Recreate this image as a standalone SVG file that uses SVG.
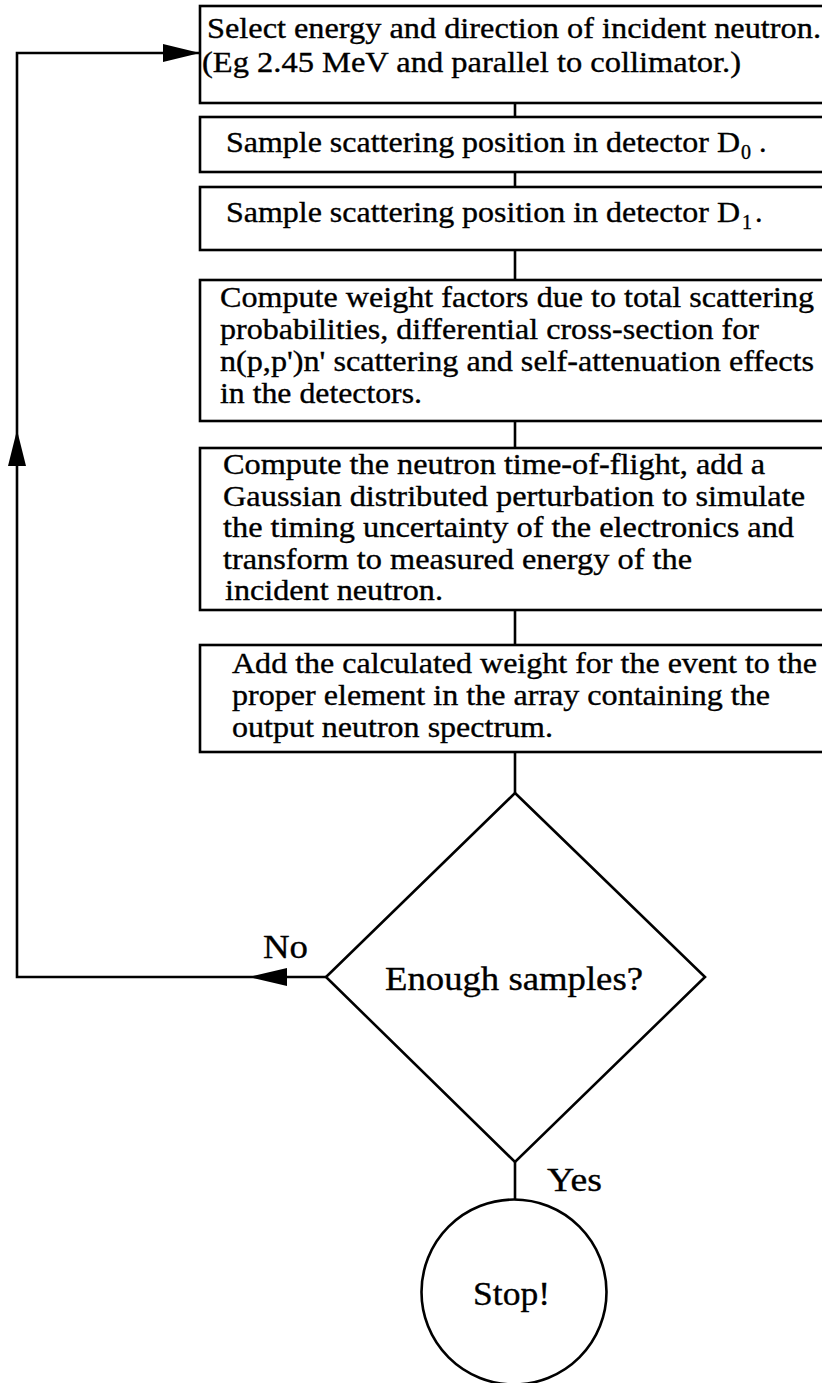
<svg xmlns="http://www.w3.org/2000/svg" width="822" height="1383" viewBox="0 0 822 1383">
<style>
.box{fill:#fff;stroke:#000;stroke-width:2.6}
.ln{fill:none;stroke:#000;stroke-width:2.6}
.ah{fill:#000;stroke:none}
text{font-family:"Liberation Serif","Times New Roman",serif;fill:#000;stroke:#000;stroke-width:0.35}
.t{font-size:30px}
.sub{font-size:20px}
.lab{font-size:34px}
</style>
<rect width="822" height="1383" fill="#fff"/>
<g id="connectors">
<line class="ln" x1="515" y1="103" x2="515" y2="117"/>
<line class="ln" x1="515" y1="172" x2="515" y2="187"/>
<line class="ln" x1="515" y1="250" x2="515" y2="280"/>
<line class="ln" x1="515" y1="421" x2="515" y2="448"/>
<line class="ln" x1="515" y1="610" x2="515" y2="645"/>
<line class="ln" x1="515" y1="752" x2="515" y2="793"/>
<line class="ln" x1="515" y1="1162" x2="515" y2="1200"/>
<polyline class="ln" points="326,977 17,977 17,53 199,53"/>
<polygon class="ah" points="200,53 163,44 163,62"/>
<polygon class="ah" points="249,977 287,968 287,986"/>
<polygon class="ah" points="17,430 8,466 26,466"/>
<text class="lab" x="263" y="958" textLength="45" lengthAdjust="spacingAndGlyphs">No</text>
<text class="lab" x="547" y="1191" textLength="55" lengthAdjust="spacingAndGlyphs">Yes</text>
</g>
<g id="n1">
<rect class="box" x="200" y="6" width="640" height="97"/>
<text class="t" x="207" y="38" textLength="614" lengthAdjust="spacingAndGlyphs">Select energy and direction of incident neutron.</text>
<text class="t" x="202" y="72" textLength="539" lengthAdjust="spacingAndGlyphs">(Eg 2.45 MeV and parallel to collimator.)</text>
</g>
<g id="n2">
<rect class="box" x="200" y="117" width="640" height="55"/>
<text class="t" y="152"><tspan x="226" textLength="514" lengthAdjust="spacingAndGlyphs">Sample scattering position in detector D</tspan><tspan class="sub" x="741" y="159">0</tspan><tspan x="759" y="152">.</tspan></text>
</g>
<g id="n3">
<rect class="box" x="200" y="187" width="640" height="63"/>
<text class="t" y="222"><tspan x="226" textLength="514" lengthAdjust="spacingAndGlyphs">Sample scattering position in detector D</tspan><tspan class="sub" x="742" y="229">1</tspan><tspan x="755" y="222">.</tspan></text>
</g>
<g id="n4">
<rect class="box" x="200" y="280" width="640" height="141"/>
<text class="t" x="220" y="307" textLength="594" lengthAdjust="spacingAndGlyphs">Compute weight factors due to total scattering</text>
<text class="t" x="220" y="339" textLength="539" lengthAdjust="spacingAndGlyphs">probabilities, differential cross-section for</text>
<text class="t" x="220" y="371" textLength="594" lengthAdjust="spacingAndGlyphs">n(p,p')n' scattering and self-attenuation effects</text>
<text class="t" x="220" y="403" textLength="202" lengthAdjust="spacingAndGlyphs">in the detectors.</text>
</g>
<g id="n5">
<rect class="box" x="200" y="448" width="640" height="162"/>
<text class="t" x="223" y="474" textLength="542" lengthAdjust="spacingAndGlyphs">Compute the neutron time-of-flight, add a</text>
<text class="t" x="223" y="506" textLength="582" lengthAdjust="spacingAndGlyphs">Gaussian distributed perturbation to simulate</text>
<text class="t" x="223" y="537" textLength="571" lengthAdjust="spacingAndGlyphs">the timing uncertainty of the electronics and</text>
<text class="t" x="223" y="569" textLength="469" lengthAdjust="spacingAndGlyphs">transform to measured energy of the</text>
<text class="t" x="225" y="600" textLength="218" lengthAdjust="spacingAndGlyphs">incident neutron.</text>
</g>
<g id="n6">
<rect class="box" x="200" y="645" width="640" height="107"/>
<text class="t" x="232" y="673" textLength="585" lengthAdjust="spacingAndGlyphs">Add the calculated weight for the event to the</text>
<text class="t" x="232" y="705" textLength="538" lengthAdjust="spacingAndGlyphs">proper element in the array containing the</text>
<text class="t" x="232" y="737" textLength="321" lengthAdjust="spacingAndGlyphs">output neutron spectrum.</text>
</g>
<g id="decision">
<polygon class="box" points="515,793 705,977 515,1162 326,977"/>
<text class="lab" x="385" y="990" textLength="258" lengthAdjust="spacingAndGlyphs">Enough samples?</text>
</g>
<g id="stop">
<circle class="box" cx="514" cy="1292" r="92.5"/>
<text class="lab" x="473" y="1305" textLength="77" lengthAdjust="spacingAndGlyphs">Stop!</text>
</g>
</svg>
